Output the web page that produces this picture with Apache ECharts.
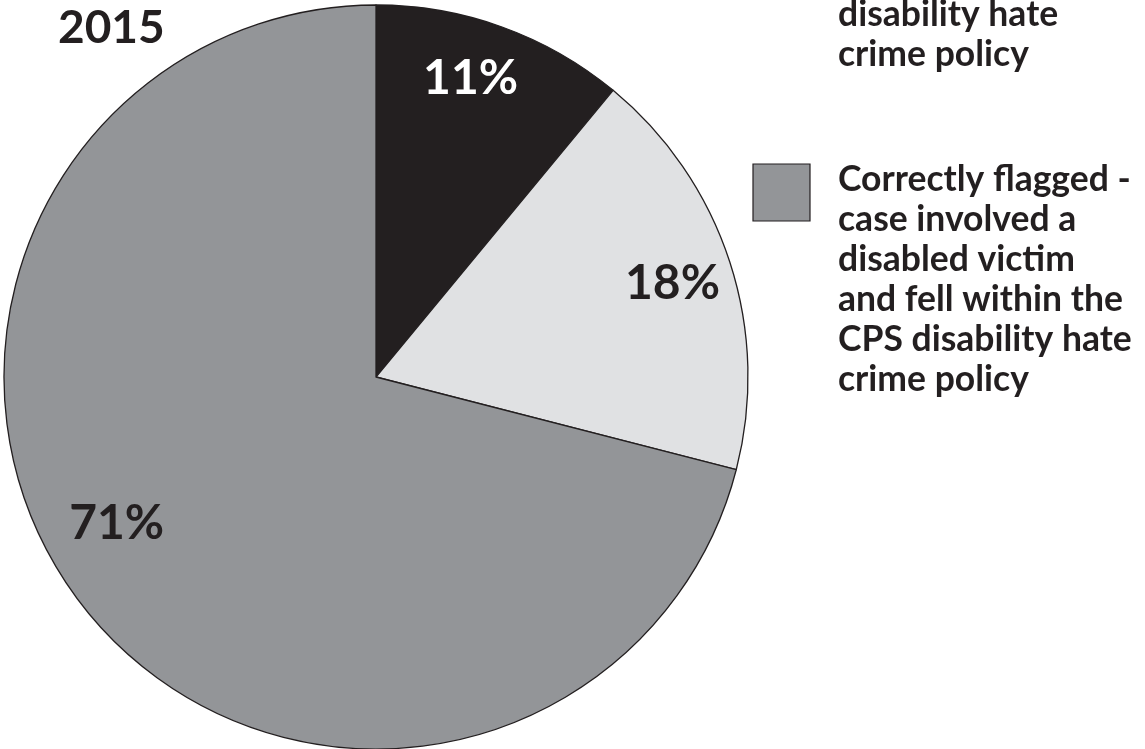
<!DOCTYPE html>
<html>
<head>
<meta charset="utf-8">
<style>
  html, body { margin: 0; padding: 0; background: #ffffff; }
  #chart { width: 1145px; height: 749px; }
</style>
<script src="https://cdn.jsdelivr.net/npm/echarts@6/dist/echarts.min.js"></script>
</head>
<body>
<div id="chart"></div>
<script>
// Share of flagged cases, 2015 (percent)
const yearTitle = '2015';
const categories = [
  'Incorrectly flagged -\ncase did not involve\na disabled victim',
  'Incorrectly flagged -\ncase involved a\ndisabled victim but\ndid not fall within\nthe CPS\ndisability hate\ncrime policy',
  'Correctly flagged -\ncase involved a\ndisabled victim\nand fell within the\nCPS disability hate\ncrime policy'
];
const shares = [11, 18, 71];
const sliceColors = ['#231f20', '#e0e1e3', '#939598'];
const labelColors = ['#ffffff', '#231f20', '#231f20'];
// small nudges of the percentage labels away from the default ring position
const labelNudges = [[-11, -5], [0, 3], [-13, -45]];

const INK = '#231f20';
const FONT = 'Lato, "Open Sans", sans-serif';
const center = [376, 377];
const radius = 372;

const pieData = categories.map((name, i) => ({
  name: name,
  value: shares[i],
  itemStyle: { color: sliceColors[i] }
}));

// Overlay ring carrying the percentage labels at ~0.83 of the radius
const labelData = categories.map((name, i) => ({
  name: name,
  value: shares[i],
  label: { color: labelColors[i], offset: labelNudges[i] }
}));

// Legend built as graphic groups: square swatch plus top-aligned multi-line text
const legendX = 753;
const legendTextX = 838;
const lineH = 40;
const itemGap = 85;
const legendItems = [];
let y = 160;
for (let i = categories.length - 1; i >= 0; i--) {
  const lines = categories[i].split('\n').length;
  if (i < categories.length - 1) {
    y -= lines * lineH + itemGap;
  }
  legendItems.push({
    type: 'rect',
    shape: { x: legendX, y: y + 4, width: 57, height: 57 },
    style: { fill: sliceColors[i], stroke: INK, lineWidth: 1.2 }
  });
  legendItems.push({
    type: 'text',
    style: {
      x: legendTextX, y: y,
      text: categories[i],
      font: 'bold 35.5px ' + FONT,
      lineHeight: lineH,
      fill: INK,
      verticalAlign: 'top',
      align: 'left'
    }
  });
}

const chart = echarts.init(document.getElementById('chart'), null, { renderer: 'canvas' });
chart.setOption({
  backgroundColor: '#ffffff',
  animation: false,
  title: {
    text: yearTitle,
    left: 58,
    top: 5,
    padding: 0,
    textStyle: { fontFamily: FONT, fontWeight: 'bold', fontSize: 46, color: INK }
  },
  graphic: legendItems,
  series: [
    {
      type: 'pie',
      center: center,
      radius: radius,
      startAngle: 90,
      clockwise: true,
      silent: true,
      label: { show: false },
      labelLine: { show: false },
      itemStyle: { borderColor: INK, borderWidth: 1.3 },
      data: pieData
    },
    {
      type: 'pie',
      center: center,
      radius: [radius * 0.66, radius],
      startAngle: 90,
      clockwise: true,
      silent: true,
      itemStyle: { color: 'rgba(0,0,0,0)', borderWidth: 0 },
      label: {
        show: true,
        position: 'inside',
        formatter: '{c}%',
        fontFamily: FONT,
        fontWeight: 'bold',
        fontSize: 48
      },
      labelLine: { show: false },
      data: labelData
    }
  ]
});
</script>
</body>
</html>
